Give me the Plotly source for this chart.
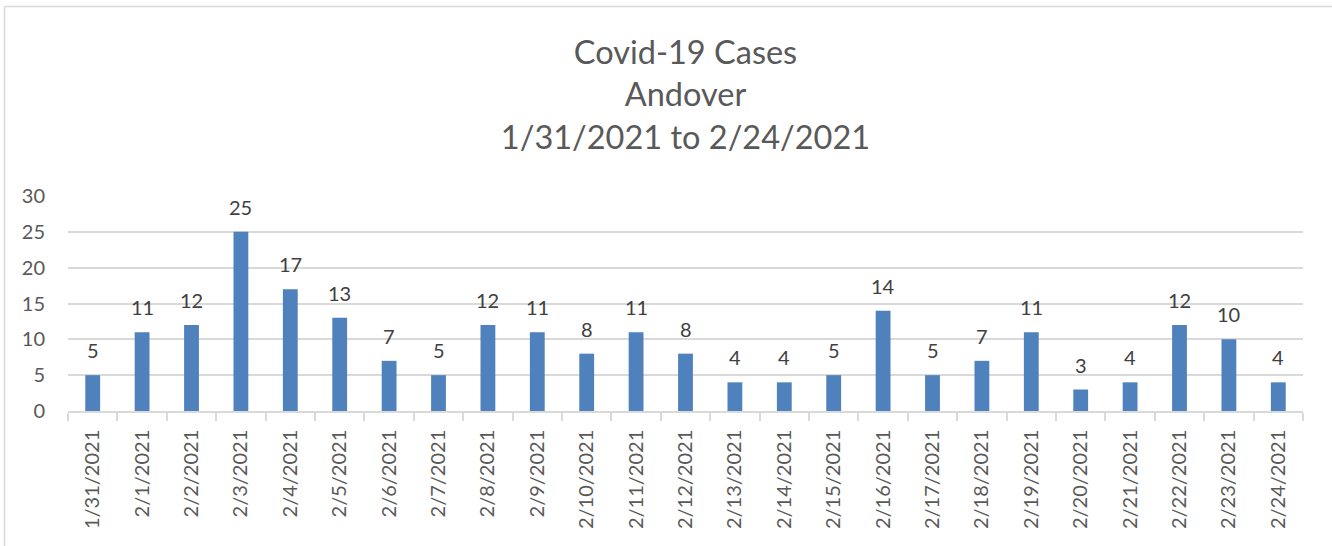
import plotly.graph_objects as go

dates = ["1/31/2021", "2/1/2021", "2/2/2021", "2/3/2021", "2/4/2021", "2/5/2021",
         "2/6/2021", "2/7/2021", "2/8/2021", "2/9/2021", "2/10/2021", "2/11/2021",
         "2/12/2021", "2/13/2021", "2/14/2021", "2/15/2021", "2/16/2021", "2/17/2021",
         "2/18/2021", "2/19/2021", "2/20/2021", "2/21/2021", "2/22/2021", "2/23/2021",
         "2/24/2021"]
cases = [5, 11, 12, 25, 17, 13, 7, 5, 12, 11, 8, 11, 8, 4, 4, 5, 14, 5, 7, 11, 3, 4, 12, 10, 4]
y_ticks = [0, 5, 10, 15, 20, 25, 30]

FONT = "Lato"
AXIS_COLOR = "#595959"
LABEL_COLOR = "#404040"
GRID = "#d9d9d9"
BAR = "#4f81bd"

fig = go.Figure()
fig.add_trace(go.Bar(x=dates, y=cases, marker=dict(color=BAR, line=dict(width=0)),
                     hoverinfo="x+y"))

annotations = [
    dict(x=d, y=v, xref="x", yref="y", text=str(v), showarrow=False,
         yanchor="middle", yshift=25, font=dict(family=FONT, size=20, color=LABEL_COLOR))
    for d, v in zip(dates, cases)
]

W, H = 1332, 546
L, R, T, B = 68, 29, 196, 135
pw, ph = W - L - R, H - T - B


def px_to_paper_x(px):
    return (px - L) / pw


def px_to_paper_y(py):
    return (H - B - py) / ph


shapes = [
    dict(type="line", xref="paper", yref="paper",
         x0=px_to_paper_x(4.5), x1=px_to_paper_x(4.5),
         y0=px_to_paper_y(6.5), y1=px_to_paper_y(560),
         line=dict(color=GRID, width=1.5)),
    dict(type="line", xref="paper", yref="paper",
         x0=px_to_paper_x(4.5), x1=px_to_paper_x(1340),
         y0=px_to_paper_y(6.5), y1=px_to_paper_y(6.5),
         line=dict(color=GRID, width=1.5)),
]

fig.update_layout(
    width=W, height=H,
    margin=dict(l=L, r=R, t=T, b=B, pad=0, autoexpand=False),
    paper_bgcolor="white", plot_bgcolor="white",
    bargap=0.7,
    showlegend=False,
    title=dict(text="Covid-19 Cases<br>Andover<br>1/31/2021 to 2/24/2021",
               x=0.5, xanchor="center", xref="paper", y=1 - 64 / H, yanchor="top",
               font=dict(family=FONT, size=32.5, color=AXIS_COLOR)),
    font=dict(family=FONT, color=AXIS_COLOR),
    annotations=annotations,
    shapes=shapes,
    xaxis=dict(type="category", tickangle=-90, tickson="boundaries",
               ticks="outside", ticklen=8, tickcolor=GRID, tickwidth=1.5,
               showline=True, linecolor=GRID, linewidth=1.5, automargin=False,
               showgrid=False, tickfont=dict(family=FONT, size=20, color=AXIS_COLOR),
               ticklabelstandoff=9, fixedrange=True),
    yaxis=dict(range=[0, 30], tickvals=y_ticks, showgrid=True, gridcolor=GRID, gridwidth=1.5,
               zeroline=False, showline=False, ticks="", automargin=False,
               tickfont=dict(family=FONT, size=20, color=AXIS_COLOR),
               ticklabelstandoff=22, fixedrange=True),
)

fig.write_html("out.html", config={"displayModeBar": False},
               post_script="document.body.style.margin='0px';document.body.style.overflow='hidden';")
